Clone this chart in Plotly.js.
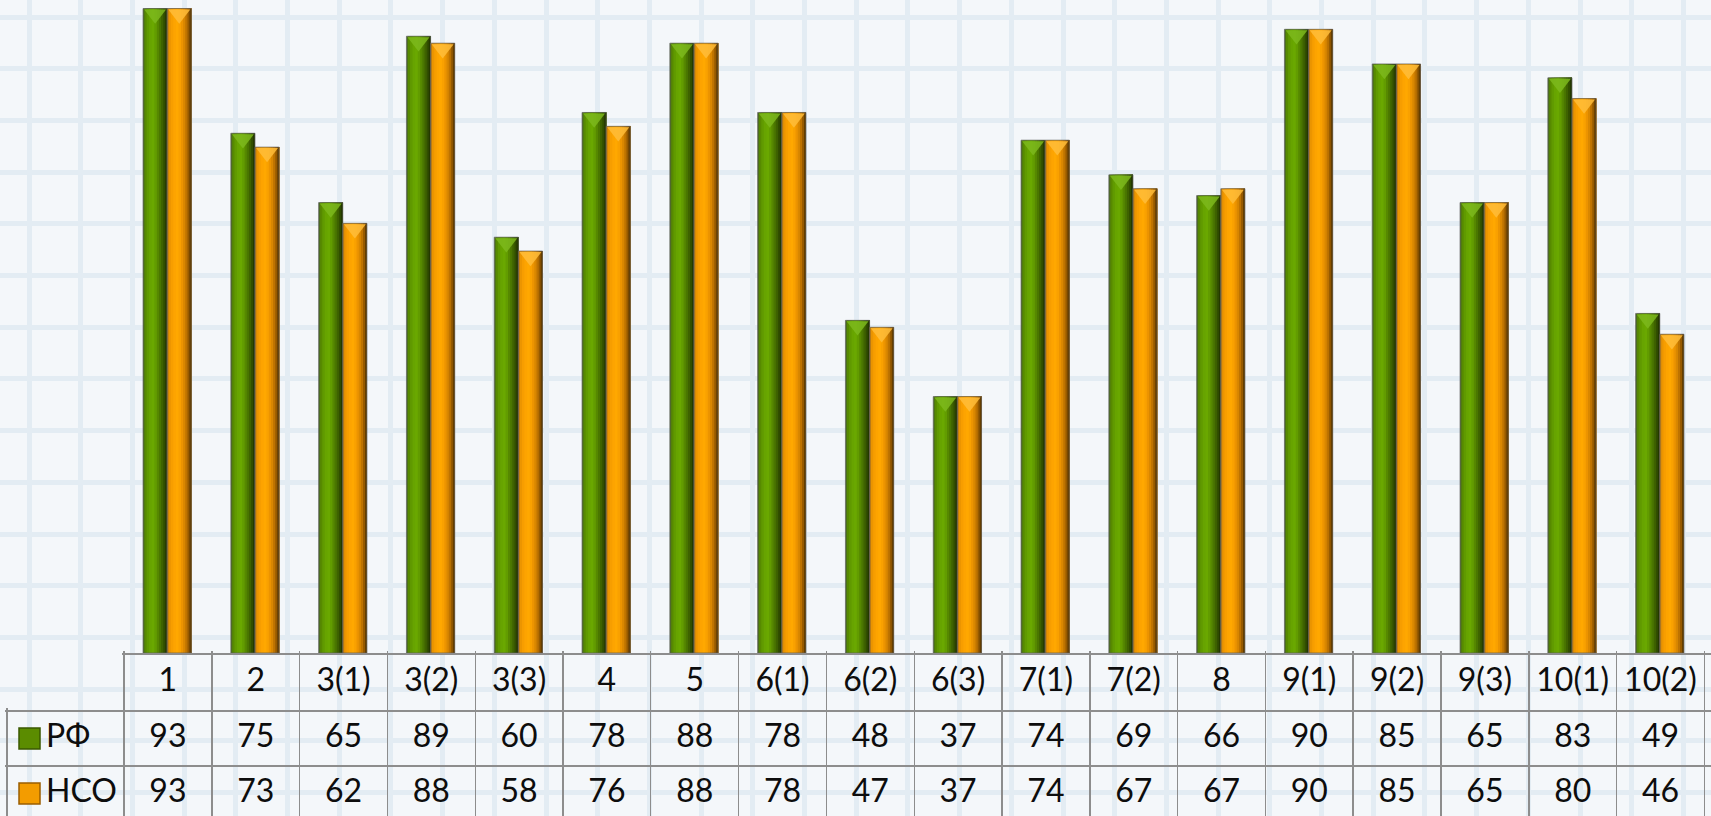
<!DOCTYPE html>
<html>
<head>
<meta charset="utf-8">
<script src="https://cdn.plot.ly/plotly-3.0.1.min.js"></script>
<style>
  html, body { margin: 0; padding: 0; background: #f4f7fa; }
  #chart { width: 1711px; height: 816px; }
</style>
</head>
<body>
<div id="chart"></div>
<script>
// ---------------- DATA ----------------
const categories = ['1','2','3(1)','3(2)','3(3)','4','5','6(1)','6(2)','6(3)','7(1)','7(2)','8','9(1)','9(2)','9(3)','10(1)','10(2)'];
const rfValues   = [93,75,65,89,60,78,88,78,48,37,74,69,66,90,85,65,83,49];
const nsoValues  = [93,73,62,88,58,76,88,78,47,37,74,67,67,90,85,65,80,46];
const seriesNames = ['РФ','НСО'];

// ---------------- LAYOUT CONSTANTS (pixels) ----------------
const W = 1711, H = 816;
const colW = 87.8;            // table column width
const col0Center = 167.9;     // centre of first category column
const baseY = 653;            // px of value 0
const pxPerUnit = 6.93;       // px per value unit
const gridStep = 51.7, gridX0 = 29, gridY0 = 17; // background graph paper
const hdrTop = 654, hdrH = 57;   // header row
const bodyTop = 711, rowH = 55;  // body rows
const labelLeft = 7;             // left border of row-label column
const fontFam = 'Lato, "Open Sans", sans-serif';

const px2x = p => (p - col0Center) / colW;
const idx = categories.map((_, i) => i);
const xRange = [px2x(0), px2x(W)];

// bar shading strips: [start fraction of bar width, colour]; each runs to the right edge
const greenStrips = [
  [0.00,'#4a6c1e'],[0.06,'#578a00'],[0.15,'#609a00'],[0.25,'#67a400'],[0.36,'#6aa800'],
  [0.47,'#629c00'],[0.57,'#568800'],[0.66,'#4a7600'],[0.75,'#3e6200'],[0.84,'#314e00'],[0.92,'#243800']
];
const orangeStrips = [
  [0.00,'#bd7c14'],[0.06,'#ec9500'],[0.15,'#f79e00'],[0.25,'#fda400'],[0.36,'#ffa800'],
  [0.47,'#f9a100'],[0.57,'#ec9400'],[0.66,'#d98700'],[0.75,'#be7300'],[0.84,'#965a00'],[0.92,'#643e00']
];
const barW = 0.275;
const seriesDefs = [
  {name: seriesNames[0], values: rfValues,  offset: -0.283, strips: greenStrips, cap: '#7cb81c', key: '#5b8c00', keyLine: '#3a5800'},
  {name: seriesNames[1], values: nsoValues, offset: -0.008, strips: orangeStrips, cap: '#ffbd3a', key: '#f39c00', keyLine: '#9a5e00'}
];

const traces = [];
// background graph paper subplot (overlay, no data)
traces.push({type:'scatter', x:[], y:[], xaxis:'x2', yaxis:'y2', hoverinfo:'skip', showlegend:false});

// bars as overlapping shaded strips
seriesDefs.forEach(s => {
  s.strips.forEach(([a, c]) => {
    traces.push({
      type:'bar', x: idx, y: s.values, name: s.name,
      width: barW * (1 - a), offset: s.offset + barW * a,
      marker: {color: c, line: {width: 0}},
      xaxis:'x', yaxis:'y', hoverinfo:'skip', showlegend:false
    });
  });
  // outline
  traces.push({
    type:'bar', x: idx, y: s.values, name: s.name,
    width: barW, offset: s.offset,
    marker: {color: 'rgba(0,0,0,0)', line: {width: 1, color: 'rgba(95,95,95,0.7)'}},
    xaxis:'x', yaxis:'y', hoverinfo:'skip', showlegend:false
  });
});
// bevel caps on top of each bar
const capSize = 19;
seriesDefs.forEach(s => {
  traces.push({
    type:'scatter', mode:'markers', x: idx.map(i => i + s.offset + barW / 2),
    y: s.values.map(v => v - (capSize / 4 + 1) / pxPerUnit),
    marker: {symbol:'triangle-down', size: capSize, color: s.cap, opacity: 0.85, line: {width: 0}},
    xaxis:'x', yaxis:'y', hoverinfo:'skip', showlegend:false, cliponaxis:false
  });
});

const tFont = {family: fontFam, size: 32, color: '#0d0d0d'};
// header row text
traces.push({type:'scatter', mode:'text', x: idx, y: categories.map(() => 0.5), text: categories,
  textfont: tFont, textposition:'middle center', xaxis:'x3', yaxis:'y3', hoverinfo:'skip', showlegend:false});
// body rows text
seriesDefs.forEach((s, r) => {
  traces.push({type:'scatter', mode:'text', x: idx, y: s.values.map(() => r + 0.5), text: s.values.map(String),
    textfont: tFont, textposition:'middle center', xaxis:'x4', yaxis:'y4', hoverinfo:'skip', showlegend:false});
});
// legend keys + labels in the row-label column
traces.push({type:'scatter', mode:'markers', x: seriesDefs.map(() => px2x(29.5)), y: seriesDefs.map((_, r) => r + 0.5),
  marker: {symbol:'square', size: 21, color: seriesDefs.map(s => s.key), line: {width: 1.5, color: seriesDefs.map(s => s.keyLine)}},
  xaxis:'x4', yaxis:'y4', hoverinfo:'skip', showlegend:false});
traces.push({type:'scatter', mode:'text', x: seriesDefs.map(() => px2x(46)), y: seriesDefs.map((_, r) => r + 0.5),
  text: seriesDefs.map(s => s.name), textfont: tFont, textposition:'middle right',
  xaxis:'x4', yaxis:'y4', hoverinfo:'skip', showlegend:false});

// table border positions
const boundaries = categories.map((_, i) => i - 0.5).concat([categories.length - 0.5]);
const lineCol = '#8d8d8d', lineW = 1.4;
const hidden = {showticklabels:false, ticks:'', zeroline:false, showline:false, showgrid:false, fixedrange:true};

const hdrDomPx = [hdrTop - 3, hdrTop + hdrH + 3];
const bodyDomPx = [bodyTop - 3, H];
const pyToFrac = p => (H - p) / H;

const layout = {
  width: W, height: H,
  margin: {l:0, r:0, t:0, b:0, pad:0},
  paper_bgcolor: '#f4f7fa', plot_bgcolor: 'rgba(0,0,0,0)',
  barmode: 'overlay', showlegend: false, hovermode: false,
  xaxis: Object.assign({}, hidden, {domain:[0,1], range: xRange, anchor:'y'}),
  yaxis: Object.assign({}, hidden, {domain:[0,1], range: [-(H - baseY) / pxPerUnit, baseY / pxPerUnit], anchor:'x'}),
  xaxis2: Object.assign({}, hidden, {overlaying:'x', anchor:'y2', range:[-gridX0 / gridStep, (W - gridX0) / gridStep],
    showgrid:true, dtick:1, tick0:0, gridcolor:'#e3ecf3', gridwidth:5}),
  yaxis2: Object.assign({}, hidden, {overlaying:'y', anchor:'x2', range:[(H - gridY0) / gridStep, -gridY0 / gridStep],
    showgrid:true, dtick:1, tick0:0, gridcolor:'#e3ecf3', gridwidth:5}),
  xaxis3: Object.assign({}, hidden, {domain:[(124 - 2) / W, 1], range:[px2x(122), px2x(W)], anchor:'y3',
    showgrid:true, tickmode:'array', tickvals: boundaries, gridcolor: lineCol, gridwidth: lineW}),
  yaxis3: Object.assign({}, hidden, {domain:[pyToFrac(hdrDomPx[1]), pyToFrac(hdrDomPx[0])], anchor:'x3',
    range:[(hdrDomPx[1] - hdrTop) / hdrH, (hdrDomPx[0] - hdrTop) / hdrH],
    showgrid:true, tickmode:'array', tickvals:[0], gridcolor: lineCol, gridwidth: lineW}),
  xaxis4: Object.assign({}, hidden, {domain:[(labelLeft - 2) / W, 1], range:[px2x(labelLeft - 2), px2x(W)], anchor:'y4',
    showgrid:true, tickmode:'array', tickvals: [px2x(labelLeft)].concat(boundaries), gridcolor: lineCol, gridwidth: lineW}),
  yaxis4: Object.assign({}, hidden, {domain:[0, pyToFrac(bodyDomPx[0])], anchor:'x4',
    range:[(bodyDomPx[1] - bodyTop) / rowH, (bodyDomPx[0] - bodyTop) / rowH],
    showgrid:true, tickmode:'array', tickvals:[0, 1, 2], gridcolor: lineCol, gridwidth: lineW})
};

Plotly.newPlot('chart', traces, layout, {staticPlot:true, displayModeBar:false});
</script>
</body>
</html>
